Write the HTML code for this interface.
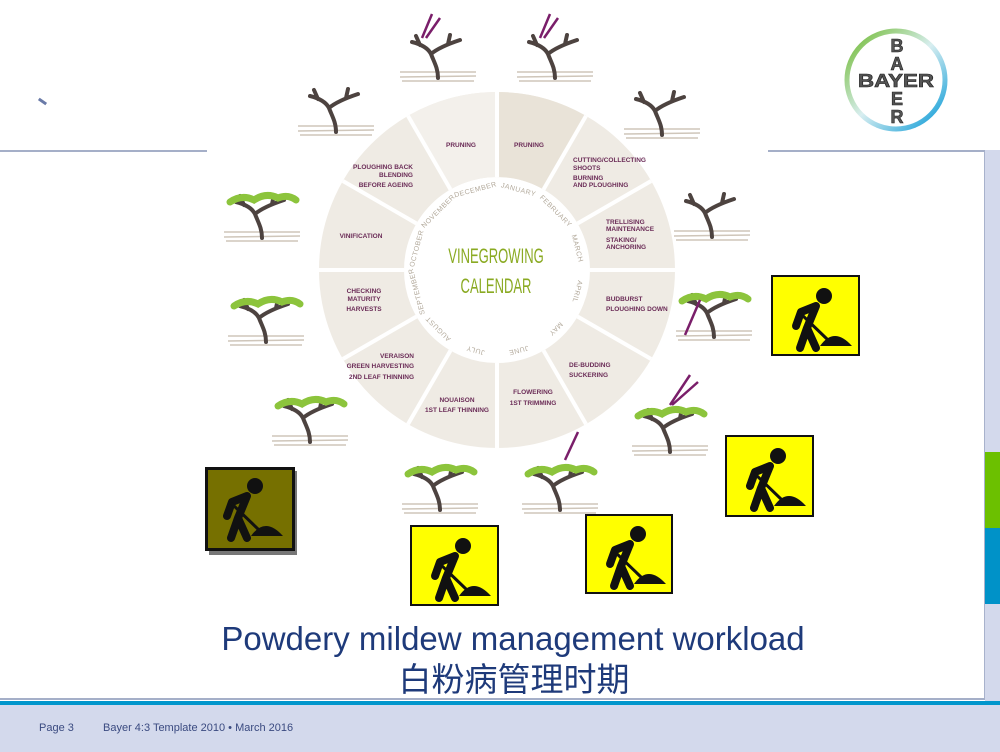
<!DOCTYPE html>
<html><head><meta charset="utf-8">
<style>
html,body{margin:0;padding:0;}
body{width:1000px;height:752px;position:relative;overflow:hidden;background:#fff;font-family:"Liberation Sans",sans-serif;}
.abs{position:absolute;}
.sign{position:absolute;width:84px;height:76px;background:#ffff00;border:2px solid #111;box-sizing:border-box;}
</style></head><body>
<div class="abs" style="left:985px;top:150px;width:15px;height:552px;background:#d3d9ec"></div>
<div class="abs" style="left:985px;top:452px;width:15px;height:76px;background:#6cc000"></div>
<div class="abs" style="left:985px;top:528px;width:15px;height:76px;background:#0092c8"></div>
<div class="abs" style="left:984px;top:150px;width:1px;height:550px;background:#a8b2cc"></div>
<div class="abs" style="left:0;top:150px;width:207px;height:2px;background:#a5afc8"></div>
<div class="abs" style="left:768px;top:150px;width:217px;height:2px;background:#a5afc8"></div>
<div class="abs" style="left:38px;top:100px;width:9px;height:3px;background:#6a7aa8;transform:rotate(35deg)"></div>
<div class="abs" style="left:0;top:698px;width:985px;height:2px;background:#a5afc8"></div>
<div class="abs" style="left:0;top:701px;width:1000px;height:4px;background:#0096cc"></div>
<div class="abs" style="left:0;top:705px;width:1000px;height:47px;background:#d3d9ec"></div>
<div class="abs" style="left:39px;top:722px;font-size:11px;color:#3a4a80">Page 3</div>
<div class="abs" style="left:103px;top:722px;font-size:11px;color:#3a4a80">Bayer 4:3 Template 2010 • March 2016</div>

<div class="abs" style="left:0;top:619px;width:1026px;text-align:center;font-size:33px;color:#1e3a7a;line-height:40px">Powdery mildew management workload</div>
<div class="abs" style="left:0;top:659px;width:1028px;text-align:center;font-size:33px;color:#1e3a7a;line-height:42px;font-family:'Liberation Sans','Noto Sans CJK SC',sans-serif">白粉病管理时期</div>

<svg class="abs" style="left:0;top:0" width="1000" height="752" viewBox="0 0 1000 752">
<defs>
<linearGradient id="bg" x1="0" y1="0" x2="1" y2="1">
<stop offset="0" stop-color="#6cb82a"/><stop offset="0.5" stop-color="#d8eef0"/><stop offset="1" stop-color="#0096d6"/></linearGradient>
<g id="vine">
<path d="M2 46 L78 46 M2 51 L78 50 M4 55 L76 55" stroke="#cfc6ba" stroke-width="1.5" fill="none"/>
<path d="M40 52 C40 42 36 36 33 28 C30 22 22 18 14 16 M33 28 C40 22 50 18 62 14 M22 19 L18 10 M50 18 L52 9" stroke="#4d4340" stroke-width="4" fill="none" stroke-linecap="round"/>
</g>
<g id="leafy">
<use href="#vine"/>
<path d="M8 16 Q20 8 32 14 Q44 6 56 12 Q66 8 74 14" stroke="#8cc43c" stroke-width="7" fill="none" stroke-linecap="round"/>
</g>
</defs>
<circle cx="497" cy="270" r="135.5" fill="none" stroke="#efebe4" stroke-width="85"/>
<path d="M497,92 A178,178 0 0 1 586,115.9 L543.5,189.5 A93,93 0 0 0 497,177 Z" fill="#e9e3d8"/>
<path d="M408,115.9 A178,178 0 0 1 497,92 L497,177 A93,93 0 0 0 450.5,189.5 Z" fill="#f3f0eb"/>
<g stroke="#fff" stroke-width="4">
<line x1="497" y1="92" x2="497" y2="177"/><line x1="586" y1="115.9" x2="543.5" y2="189.5"/>
<line x1="651.1" y1="181" x2="577.5" y2="223.5"/><line x1="675" y1="270" x2="590" y2="270"/>
<line x1="651.1" y1="359" x2="577.5" y2="316.5"/><line x1="586" y1="424.1" x2="543.5" y2="350.5"/>
<line x1="497" y1="448" x2="497" y2="363"/><line x1="408" y1="424.1" x2="450.5" y2="350.5"/>
<line x1="342.9" y1="359" x2="416.5" y2="316.5"/><line x1="319" y1="270" x2="404" y2="270"/>
<line x1="342.9" y1="181" x2="416.5" y2="223.5"/><line x1="408" y1="115.9" x2="450.5" y2="189.5"/>
</g>
<g font-size="7" fill="#b3aa9c" text-anchor="middle" font-family="Liberation Sans" letter-spacing="0.5">
<text x="497" y="189" transform="rotate(15 497 270)">JANUARY</text>
<text x="497" y="189" transform="rotate(45 497 270)">FEBRUARY</text>
<text x="497" y="189" transform="rotate(75 497 270)">MARCH</text>
<text x="497" y="189" transform="rotate(105 497 270)">APRIL</text>
<text x="497" y="189" transform="rotate(135 497 270)">MAY</text>
<text x="497" y="189" transform="rotate(165 497 270)">JUNE</text>
<text x="497" y="189" transform="rotate(195 497 270)">JULY</text>
<text x="497" y="189" transform="rotate(225 497 270)">AUGUST</text>
<text x="497" y="189" transform="rotate(255 497 270)">SEPTEMBER</text>
<text x="497" y="189" transform="rotate(285 497 270)">OCTOBER</text>
<text x="497" y="189" transform="rotate(315 497 270)">NOVEMBER</text>
<text x="497" y="189" transform="rotate(345 497 270)">DECEMBER</text>
</g>
<g fill="#8aaa22" font-size="21" text-anchor="middle" font-family="Liberation Sans">
<text x="0" y="0" transform="translate(496,263) scale(0.62,1)">VINEGROWING</text>
<text x="0" y="0" transform="translate(496,293) scale(0.62,1)">CALENDAR</text>
</g>
<g fill="#6b2c57" font-size="6.5" font-weight="bold" font-family="Liberation Sans">
<text x="461" y="147" text-anchor="middle">PRUNING</text>
<text x="529" y="147" text-anchor="middle">PRUNING</text>
<text x="573" y="162">CUTTING/COLLECTING</text><text x="573" y="170">SHOOTS</text>
<text x="573" y="180">BURNING</text><text x="573" y="187">AND PLOUGHING</text>
<text x="606" y="224">TRELLISING</text><text x="606" y="231">MAINTENANCE</text>
<text x="606" y="242">STAKING/</text><text x="606" y="249">ANCHORING</text>
<text x="606" y="301">BUDBURST</text><text x="606" y="311">PLOUGHING DOWN</text>
<text x="569" y="367">DE-BUDDING</text><text x="569" y="377">SUCKERING</text>
<text x="533" y="394" text-anchor="middle">FLOWERING</text><text x="533" y="405" text-anchor="middle">1ST TRIMMING</text>
<text x="457" y="402" text-anchor="middle">NOUAISON</text><text x="457" y="412" text-anchor="middle">1ST LEAF THINNING</text>
<text x="414" y="358" text-anchor="end">VERAISON</text><text x="414" y="368" text-anchor="end">GREEN HARVESTING</text><text x="414" y="379" text-anchor="end">2ND LEAF THINNING</text>
<text x="364" y="293" text-anchor="middle">CHECKING</text><text x="364" y="301" text-anchor="middle">MATURITY</text><text x="364" y="311" text-anchor="middle">HARVESTS</text>
<text x="361" y="238" text-anchor="middle">VINIFICATION</text>
<text x="413" y="169" text-anchor="end">PLOUGHING BACK</text><text x="413" y="177" text-anchor="end">BLENDING</text><text x="413" y="187" text-anchor="end">BEFORE AGEING</text>
</g>
<use href="#vine" x="398" y="26"/>
<use href="#vine" x="515" y="26"/>
<use href="#vine" x="296" y="80"/>
<use href="#vine" x="622" y="83"/>
<use href="#leafy" x="222" y="186"/>
<use href="#vine" x="672" y="185"/>
<use href="#leafy" x="226" y="290"/>
<use href="#leafy" x="674" y="285"/>
<use href="#leafy" x="270" y="390"/>
<use href="#leafy" x="630" y="400"/>
<use href="#leafy" x="400" y="458"/>
<use href="#leafy" x="520" y="458"/>
<g stroke="#7a1e6a" stroke-width="2.5" fill="none">
<path d="M432 14 L422 38 M440 18 L426 38"/><path d="M550 14 L540 38 M558 18 L544 38"/>
<path d="M690 375 L670 405 M698 382 L672 405"/><path d="M578 432 L565 460"/>
<path d="M700 300 L685 335"/>
</g>
<circle cx="896" cy="80" r="49" fill="#fff" stroke="url(#bg)" stroke-width="5"/>
<g font-family="Liberation Sans" font-weight="bold" font-size="18" fill="#555" stroke="#222" stroke-width="0.6" text-anchor="middle">
<text x="896" y="87" textLength="76" lengthAdjust="spacingAndGlyphs">BAYER</text>
<text x="897" y="52">B</text><text x="897" y="70">A</text>
<text x="897" y="105">E</text><text x="897" y="123">R</text>
</g>
</svg>

<div class="abs" style="left:209px;top:471px;width:88px;height:84px;background:#777"></div>
<div class="sign" style="left:205px;top:467px;width:90px;height:84px;background:#767000;border-width:3px"></div>
<div class="sign" style="left:771px;top:275px;width:89px;height:81px"></div>
<div class="sign" style="left:725px;top:435px;width:89px;height:82px"></div>
<div class="sign" style="left:585px;top:514px;width:88px;height:80px"></div>
<div class="sign" style="left:410px;top:525px;width:89px;height:81px"></div>
<svg class="abs" style="left:0;top:0" width="1000" height="752">
<defs><g id="man" fill="#111" stroke="#111">
<circle cx="48" cy="16" r="8" stroke="none"/>
<path d="M40 26 L25 32 L20 46 M40 26 L31 48 L24 68 M31 48 L40 68" stroke-width="8" fill="none" stroke-linecap="round" stroke-linejoin="round"/>
<path d="M24 33 L52 60" stroke-width="3" fill="none"/>
<path d="M44 66 Q58 46 76 66 Z" stroke="none"/>
</g></defs>
<use href="#man" x="207" y="470"/>
<use href="#man" x="776" y="280"/>
<use href="#man" x="730" y="440"/>
<use href="#man" x="590" y="518"/>
<use href="#man" x="415" y="530"/>
</svg>
</body></html>
